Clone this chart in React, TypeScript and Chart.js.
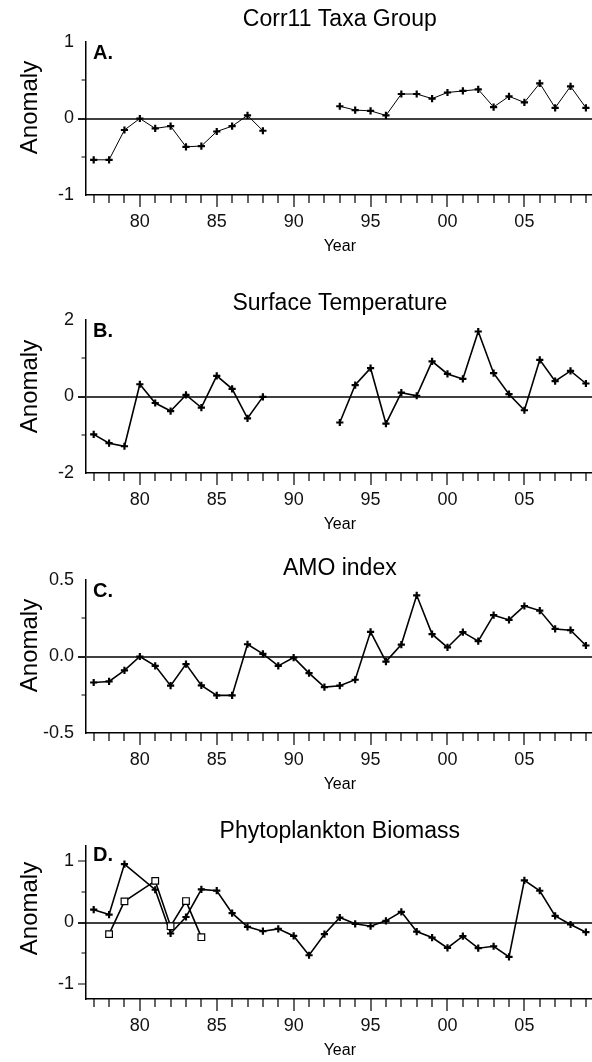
import React, { useEffect, useRef } from "react";
import { Chart, registerables } from "chart.js";

Chart.register(...registerables);

// ---------- data ----------
const YEARS = [
  1977, 1978, 1979, 1980, 1981, 1982, 1983, 1984, 1985, 1986, 1987, 1988, 1989,
  1990, 1991, 1992, 1993, 1994, 1995, 1996, 1997, 1998, 1999, 2000, 2001, 2002,
  2003, 2004, 2005, 2006, 2007, 2008, 2009,
];

const CORR11 = [
  -0.54, -0.54, -0.15, 0.0, -0.13, -0.1, -0.37, -0.36, -0.17, -0.1, 0.04, -0.16,
  null, null, null, null,
  0.16, 0.11, 0.1, 0.04, 0.32, 0.32, 0.26, 0.34, 0.36, 0.38, 0.15, 0.29, 0.21,
  0.46, 0.14, 0.42, 0.14,
];

const SURFACE_TEMP = [
  -0.99, -1.22, -1.3, 0.32, -0.17, -0.38, 0.04, -0.29, 0.54, 0.2, -0.57, -0.01,
  null, null, null, null,
  -0.68, 0.3, 0.74, -0.71, 0.1, 0.02, 0.92, 0.59, 0.46, 1.7, 0.61, 0.06, -0.36,
  0.96, 0.4, 0.67, 0.34,
];

const AMO = [
  -0.17, -0.163, -0.091, 0.0, -0.061, -0.191, -0.05, -0.189, -0.254, -0.254,
  0.08, 0.017, -0.061, -0.007, -0.109, -0.2, -0.191, -0.152, 0.161, -0.033,
  0.078, 0.4, 0.146, 0.059, 0.159, 0.1, 0.27, 0.239, 0.33, 0.3, 0.18, 0.172,
  0.072,
];

const PHYTO_PLUS = [
  0.21, 0.13, 0.955, null, 0.535, -0.18, 0.09, 0.54, 0.52, 0.153, -0.071, -0.142,
  -0.104, -0.219, -0.535, -0.191, 0.082, -0.022, -0.06, 0.027, 0.175, -0.148,
  -0.246, -0.415, -0.224, -0.42, -0.388, -0.563, 0.689, 0.519, 0.109, -0.033,
  -0.158,
];

const PHYTO_SQUARE = [
  null, -0.19, 0.345, null, 0.68, -0.06, 0.35, -0.24,
  null, null, null, null, null, null, null, null, null, null, null, null, null,
  null, null, null, null, null, null, null, null, null, null, null, null,
];

const X_MAJOR_TICKS = [1980, 1985, 1990, 1995, 2000, 2005];

const Y_TICKS_A = [-1, 0, 1];
const Y_MINOR_A = [-0.5, 0.5];
const Y_TICKS_B = [-2, 0, 2];
const Y_MINOR_B = [-1, 1];
const Y_TICKS_C = [-0.5, 0, 0.5];
const Y_MINOR_C = [-0.25, 0.25];
const Y_TICKS_D = [-1, 0, 1];
const Y_MINOR_D = [-0.5, 0.5];

const TITLES = [
  "Corr11 Taxa Group",
  "Surface Temperature",
  "AMO index",
  "Phytoplankton Biomass",
];
const LETTERS = ["A.", "B.", "C.", "D."];
const Y_TITLE = "Anomaly";
const X_TITLE = "Year";

// ---------- layout ----------
const FONT = "'Liberation Sans', Arial, Helvetica, sans-serif";
const CANVAS_W = 600;
const PAD_TOP = 48;
const PLOT_H = 153;
const X_AXIS_H = 62;
const CANVAS_H = PAD_TOP + PLOT_H + X_AXIS_H;
const Y_AXIS_W = 86;
const PAD_RIGHT = 6.4;

type Series = {
  data: (number | null)[];
  style: "cross" | "rect";
  spanGaps: boolean;
};

type PanelCfg = {
  title: string;
  letter: string;
  series: Series[];
  yMin: number;
  yMax: number;
  yTicks: number[];
  yMinor: number[];
  yFmt: (v: number) => string;
  plotTop: number;
  titleY: number;
  zeroColor: string;
  zeroWidth: number;
  lineWidth: number;
  anomalyShift: number;
  letterDy: number;
};

const PANELS: PanelCfg[] = [
  {
    title: TITLES[0],
    letter: LETTERS[0],
    series: [{ data: CORR11, style: "cross", spanGaps: false }],
    yMin: -1,
    yMax: 1,
    yTicks: Y_TICKS_A,
    yMinor: Y_MINOR_A,
    yFmt: (v) => String(v),
    plotTop: 42,
    titleY: 19.5,
    zeroColor: "#000",
    zeroWidth: 1.3,
    lineWidth: 1,
    anomalyShift: -11,
    letterDy: 16.5,
  },
  {
    title: TITLES[1],
    letter: LETTERS[1],
    series: [{ data: SURFACE_TEMP, style: "cross", spanGaps: false }],
    yMin: -2,
    yMax: 2,
    yTicks: Y_TICKS_B,
    yMinor: Y_MINOR_B,
    yFmt: (v) => String(v),
    plotTop: 320,
    titleY: 304,
    zeroColor: "#404040",
    zeroWidth: 2,
    lineWidth: 1.6,
    anomalyShift: -10,
    letterDy: 16.5,
  },
  {
    title: TITLES[2],
    letter: LETTERS[2],
    series: [{ data: AMO, style: "cross", spanGaps: false }],
    yMin: -0.5,
    yMax: 0.5,
    yTicks: Y_TICKS_C,
    yMinor: Y_MINOR_C,
    yFmt: (v) => v.toFixed(1),
    plotTop: 580,
    titleY: 569,
    zeroColor: "#404040",
    zeroWidth: 2,
    lineWidth: 1.6,
    anomalyShift: -11,
    letterDy: 17,
  },
  {
    title: TITLES[3],
    letter: LETTERS[3],
    series: [
      { data: PHYTO_SQUARE, style: "rect", spanGaps: true },
      { data: PHYTO_PLUS, style: "cross", spanGaps: true },
    ],
    yMin: -1.25,
    yMax: 1.25,
    yTicks: Y_TICKS_D,
    yMinor: Y_MINOR_D,
    yFmt: (v) => String(v),
    plotTop: 846,
    titleY: 831.5,
    zeroColor: "#000",
    zeroWidth: 1.3,
    lineWidth: 1.6,
    anomalyShift: -14,
    letterDy: 15,
  },
];

function makeDecor(cfg: PanelCfg) {
  const canvasTop = cfg.plotTop - PAD_TOP;
  return {
    id: "decor",
    beforeDatasetsDraw(chart: any) {
      const { ctx, chartArea: a, scales } = chart;
      const y0 = Math.round(scales.y.getPixelForValue(0));
      ctx.save();
      ctx.strokeStyle = cfg.zeroColor;
      ctx.lineWidth = cfg.zeroWidth;
      ctx.beginPath();
      ctx.moveTo(a.left - 8, y0);
      ctx.lineTo(a.right, y0);
      ctx.stroke();
      ctx.restore();
    },
    afterDraw(chart: any) {
      const { ctx, chartArea: a, scales } = chart;
      const xs = scales.x;
      const ys = scales.y;
      ctx.save();
      ctx.strokeStyle = "#000";
      ctx.lineWidth = 1.2;
      ctx.beginPath();
      // y major ticks (not at the ends)
      cfg.yTicks.forEach((v) => {
        if (v === cfg.yMin || v === cfg.yMax) return;
        const p = Math.round(ys.getPixelForValue(v));
        ctx.moveTo(a.left - 8, p);
        ctx.lineTo(a.left, p);
      });
      // y minor ticks
      cfg.yMinor.forEach((v) => {
        const p = Math.round(ys.getPixelForValue(v));
        ctx.moveTo(a.left - 4.5, p);
        ctx.lineTo(a.left, p);
      });
      // x ticks
      YEARS.forEach((yr) => {
        const p = Math.round(xs.getPixelForValue(yr));
        const len = X_MAJOR_TICKS.indexOf(yr) >= 0 ? 12 : 8;
        ctx.moveTo(p, a.bottom);
        ctx.lineTo(p, a.bottom + len);
      });
      ctx.stroke();

      ctx.fillStyle = "#000";
      const cx = (a.left + a.right) / 2;
      // title
      ctx.font = `23px ${FONT}`;
      ctx.textAlign = "center";
      ctx.textBaseline = "middle";
      ctx.fillText(cfg.title, cx, cfg.titleY - canvasTop);
      // x title
      ctx.font = `16px ${FONT}`;
      ctx.fillText(X_TITLE, cx, a.bottom + 52);
      // letter
      ctx.font = `bold 20px ${FONT}`;
      ctx.textAlign = "left";
      ctx.textBaseline = "alphabetic";
      ctx.fillText(cfg.letter, a.left + 7, a.top + cfg.letterDy);
      // y title
      ctx.font = `24px ${FONT}`;
      ctx.translate(36.5, (a.top + a.bottom) / 2 + cfg.anomalyShift);
      ctx.rotate(-Math.PI / 2);
      ctx.textAlign = "center";
      ctx.fillText(Y_TITLE, 0, 0);
      ctx.restore();
    },
  };
}

function Panel({ cfg }: { cfg: PanelCfg }) {
  const ref = useRef<HTMLCanvasElement | null>(null);
  useEffect(() => {
    if (!ref.current) return;
    const datasets = cfg.series.map((s) => ({
      data: YEARS.map((yr, i) => ({ x: yr, y: s.data[i] })),
      borderColor: "#000",
      borderWidth: cfg.lineWidth,
      tension: 0,
      spanGaps: s.spanGaps,
      pointStyle: s.style,
      pointRadius: s.style === "rect" ? 4.7 : 3.6,
      pointHoverRadius: s.style === "rect" ? 4.7 : 3.6,
      pointBorderColor: "#000",
      pointBackgroundColor: s.style === "rect" ? "#fff" : "#000",
      pointBorderWidth: s.style === "rect" ? 1.2 : 2.2,
      fill: false,
    }));
    const chart = new Chart(ref.current, {
      type: "line",
      data: { datasets: datasets as any },
      plugins: [makeDecor(cfg)],
      options: {
        animation: false,
        responsive: false,
        devicePixelRatio: 1,
        layout: { padding: { top: PAD_TOP, left: 0, right: PAD_RIGHT, bottom: 0 } },
        plugins: {
          legend: { display: false },
          title: { display: false },
          tooltip: { enabled: false },
        },
        events: [],
        scales: {
          x: {
            type: "linear",
            min: 1976.5,
            max: 2009.5,
            grid: { display: false, drawTicks: false },
            border: { display: true, color: "#000", width: 1.5 },
            afterBuildTicks: (scale: any) => {
              scale.ticks = X_MAJOR_TICKS.map((v) => ({ value: v }));
            },
            afterFit: (scale: any) => {
              scale.height = X_AXIS_H;
            },
            ticks: {
              color: "#111",
              font: { family: FONT, size: 18 },
              padding: 16,
              maxRotation: 0,
              autoSkip: false,
              callback: (v: any) => String(v).slice(2),
            },
          },
          y: {
            type: "linear",
            min: cfg.yMin,
            max: cfg.yMax,
            grid: { display: false, drawTicks: false },
            border: { display: true, color: "#000", width: 1.5 },
            afterBuildTicks: (scale: any) => {
              scale.ticks = cfg.yTicks.map((v) => ({ value: v }));
            },
            afterFit: (scale: any) => {
              scale.width = Y_AXIS_W;
            },
            ticks: {
              color: "#111",
              font: { family: FONT, size: 18 },
              padding: 12,
              autoSkip: false,
              callback: (v: any) => cfg.yFmt(Number(v)),
            },
          },
        },
      } as any,
    });
    return () => chart.destroy();
  }, [cfg]);
  return (
    <canvas
      ref={ref}
      width={CANVAS_W}
      height={CANVAS_H}
      style={{
        position: "absolute",
        left: 0,
        top: cfg.plotTop - PAD_TOP,
        width: CANVAS_W,
        height: CANVAS_H,
      }}
    />
  );
}

export default function App() {
  return (
    <div
      style={{
        position: "absolute",
        left: 0,
        top: 0,
        width: 592,
        height: 1062,
        overflow: "hidden",
        background: "#fff",
      }}
    >
      {PANELS.map((p) => (
        <Panel key={p.letter} cfg={p} />
      ))}
    </div>
  );
}
